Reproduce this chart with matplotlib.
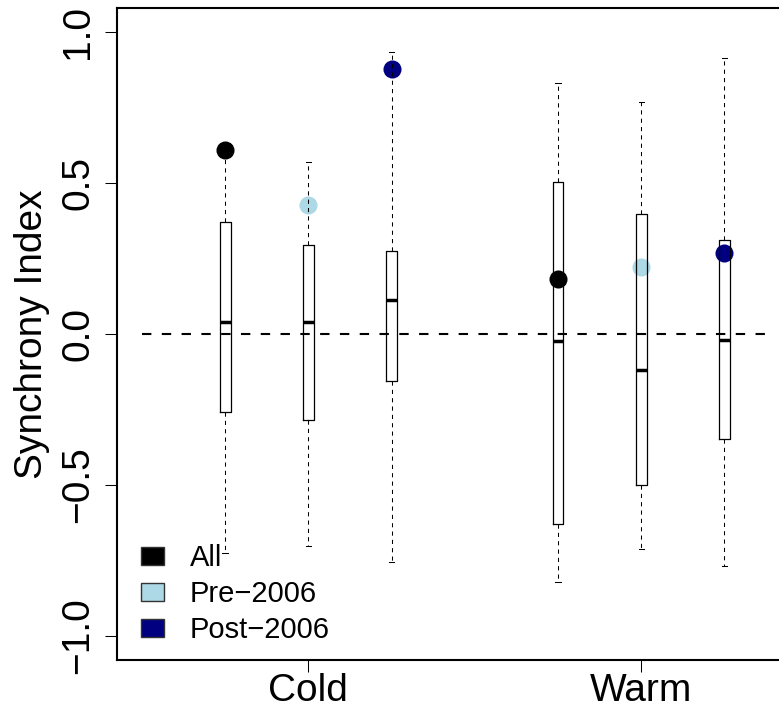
import matplotlib
matplotlib.use("Agg")
import matplotlib.pyplot as plt
from matplotlib.patches import Patch

plt.rcParams['font.family'] = ['Liberation Sans', 'DejaVu Sans']

# box positions: Cold = 1,2,3 ; Warm = 5,6,7
positions = [1, 2, 3, 5, 6, 7]
groups = ["Cold", "Warm"]
group_pos = [2, 6]
series = ["All", "Pre\u22122006", "Post\u22122006"]
series_colors = ["black", "lightblue", "navy"]

# box stats (All, Pre, Post for Cold then Warm)
whis_lo = [-0.724, -0.701, -0.754, -0.820, -0.711, -0.770]
q1 = [-0.259, -0.286, -0.156, -0.629, -0.501, -0.347]
med = [0.039, 0.039, 0.112, -0.023, -0.120, -0.020]
q3 = [0.372, 0.295, 0.276, 0.504, 0.398, 0.310]
whis_hi = [0.59, 0.570, 0.935, 0.832, 0.768, 0.915]

# observed index (dots)
observed = [0.608, 0.427, 0.877, 0.181, 0.223, 0.270]
dot_colors = series_colors * 2

fig = plt.figure(figsize=(7.79, 7.09), dpi=100)
ax = fig.add_axes([117 / 779, 1 - 660 / 709, (836 - 117) / 779, (660 - 8) / 709])

for x, y, c in zip(positions, observed, dot_colors):
    ax.plot(x, y, 'o', ms=13, color=c, mec='none', zorder=1)

stats = []
for i in range(len(positions)):
    stats.append(dict(med=med[i], q1=q1[i], q3=q3[i],
                      whislo=whis_lo[i], whishi=whis_hi[i], fliers=[]))

ax.bxp(stats, positions=positions, widths=0.13, capwidths=0.065,
       showfliers=False, manage_ticks=False,
       boxprops=dict(color='black', lw=0.9),
       whiskerprops=dict(color='black', lw=0.75, linestyle=(0, (4, 4))),
       capprops=dict(color='black', lw=0.75),
       medianprops=dict(color='black', lw=2.5, solid_capstyle='butt'),
       zorder=2)

ax.plot([0, 7.5], [0, 0], color='black', lw=1.5, linestyle=(0, (4.5, 5)), zorder=3)

ax.set_xlim(-0.3, 8.34)
ax.set_ylim(-1.08, 1.08)

ax.set_xticks(group_pos)
ax.set_xticklabels(groups, fontsize=28)
ax.set_yticks([-1.0, -0.5, 0.0, 0.5, 1.0])
ax.set_yticklabels(["\u22121.0", "\u22120.5", "0.0", "0.5", "1.0"],
                   fontsize=28, rotation=90, va='center')
ax.tick_params(axis='x', length=8.5, width=0.75, pad=1)
ax.tick_params(axis='y', length=8.5, width=0.75, pad=6.5)

ax.set_ylabel("Synchrony Index", fontsize=28)
ax.yaxis.set_label_coords(-0.093, 0.5)

for s in ax.spines.values():
    s.set_linewidth(1.5)

handles = [Patch(facecolor=c, edgecolor='#333333', lw=1) for c in series_colors]
ax.legend(handles, series, loc='lower left', bbox_to_anchor=(0.034, 0.024),
          frameon=False, fontsize=21, handlelength=0.78, handleheight=0.58,
          handletextpad=0.88, labelspacing=0.28, borderpad=0, borderaxespad=0)

fig.savefig("out.png", dpi=100)
